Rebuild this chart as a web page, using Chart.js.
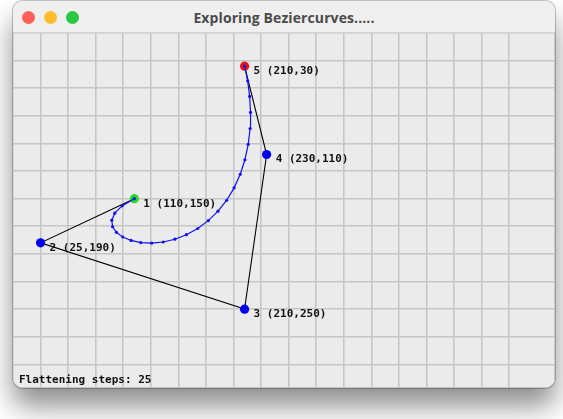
<!DOCTYPE html>
<html>
<head>
<meta charset="utf-8">
<script src="https://cdn.jsdelivr.net/npm/chart.js@4/dist/chart.umd.min.js"></script>
<style>
  html, body { margin: 0; padding: 0; background: #ffffff; width: 563px; height: 419px; overflow: hidden; }
  #win {
    position: absolute; left: 13px; top: 1px; width: 542px; height: 387px;
    border-radius: 10px; background: #ebebeb; overflow: hidden;
    box-shadow: 0 18px 28px rgba(0,0,0,0.45), 0 0 0 1px rgba(0,0,0,0.22);
  }
  #titlebar {
    position: absolute; left: 0; top: 0; width: 542px; height: 31px;
    background: #efefef; border-bottom: 1px solid #d2d2d2;
  }
  #title {
    position: absolute; left: 0; top: 0; width: 542px; line-height: 33px; text-align: center;
    font-family: "Open Sans", "Noto Sans", sans-serif; font-weight: 700; font-size: 14px; color: #4b4b4b;
    letter-spacing: 0.1px;
  }
  .dot { position: absolute; top: 10px; width: 13px; height: 13px; border-radius: 50%; }
  #cv { position: absolute; left: 0; top: 32px; }
</style>
</head>
<body>
<div id="win">
  <div id="titlebar">
    <div class="dot" style="left:9px;background:#fe5f57;"></div>
    <div class="dot" style="left:31px;background:#febc2e;"></div>
    <div class="dot" style="left:53px;background:#28c840;"></div>
    <div id="title">Exploring Beziercurves.....</div>
  </div>
  <canvas id="cv" width="542" height="355"></canvas>
</div>
<script>
// Control points (window coordinates, y grows downward)
const ctrlLabels = ["1 (110,150)", "2 (25,190)", "3 (210,250)", "4 (230,110)", "5 (210,30)"];
const ctrlX = [110, 25, 210, 230, 210];
const ctrlY = [150, 190, 250, 110, 30];
const ctrlColors = ["#22dd22", "#0000ee", "#0000ee", "#0000ee", "#ee1111"];

// Flattened curve points (25 steps)
const curveX = [110, 98.9, 92.3, 89.6, 90.3, 93.8, 99.5, 107.1, 115.9, 125.8, 136.2, 146.8, 157.3,
                167.5, 177.1, 185.9, 193.8, 200.5, 206.1, 210.3, 213.3, 215.0, 215.4, 214.6, 212.8, 210];
const curveY = [150, 156.5, 163.1, 169.5, 175.4, 180.5, 184.7, 187.8, 189.7, 190.2, 189.2, 186.7, 182.6,
                177.0, 169.9, 161.3, 151.4, 140.2, 127.9, 114.8, 100.8, 86.5, 71.9, 57.4, 43.3, 30];

const flatteningSteps = 25;
const gridStep = 25;

const toPts = (xs, ys) => xs.map((x, i) => ({ x: x, y: ys[i] }));

const labelPlugin = {
  id: 'labels',
  afterDatasetsDraw(chart) {
    const ctx = chart.ctx;
    const xs = chart.scales.x, ys = chart.scales.y;
    ctx.save();
    ctx.fillStyle = '#111111';
    ctx.font = 'bold 11px "DejaVu Sans Mono", monospace';
    ctx.textBaseline = 'middle';
    ctx.textAlign = 'left';
    ctrlLabels.forEach((lab, i) => {
      ctx.fillText(lab, xs.getPixelForValue(ctrlX[i]) + 9, ys.getPixelForValue(ctrlY[i]) + 5);
    });
    ctx.fillText('Flattening steps: ' + flatteningSteps, 6, chart.height - 8);
    ctx.restore();
  }
};

new Chart(document.getElementById('cv'), {
  type: 'scatter',
  data: {
    datasets: [
      {
        label: 'curve',
        data: toPts(curveX, curveY),
        showLine: true,
        borderColor: '#1010f0',
        borderWidth: 1.2,
        pointRadius: 1.6,
        pointBackgroundColor: '#1010f0',
        pointBorderWidth: 0,
        order: 0
      },
      {
        label: 'control points',
        data: toPts(ctrlX, ctrlY),
        showLine: false,
        pointRadius: 4.6,
        pointBackgroundColor: ctrlColors,
        pointBorderWidth: 0,
        order: 1
      },
      {
        label: 'polygon',
        data: toPts(ctrlX, ctrlY),
        showLine: true,
        borderColor: '#000000',
        borderWidth: 1.1,
        pointRadius: 0,
        order: 2
      }
    ]
  },
  options: {
    responsive: false,
    animation: false,
    devicePixelRatio: 1,
    layout: { padding: 0, autoPadding: false },
    plugins: { legend: { display: false }, tooltip: { enabled: false } },
    scales: {
      x: {
        type: 'linear', min: 0, max: 491.5,
        border: { display: false },
        ticks: { display: false, stepSize: gridStep },
        grid: { color: '#c6c6c6', lineWidth: 1.6, drawTicks: false }
      },
      y: {
        type: 'linear', min: 0, max: 321.4, reverse: true,
        border: { display: false },
        ticks: { display: false, stepSize: gridStep },
        grid: { color: '#c6c6c6', lineWidth: 1.6, drawTicks: false }
      }
    }
  },
  plugins: [labelPlugin]
});
</script>
</body>
</html>
